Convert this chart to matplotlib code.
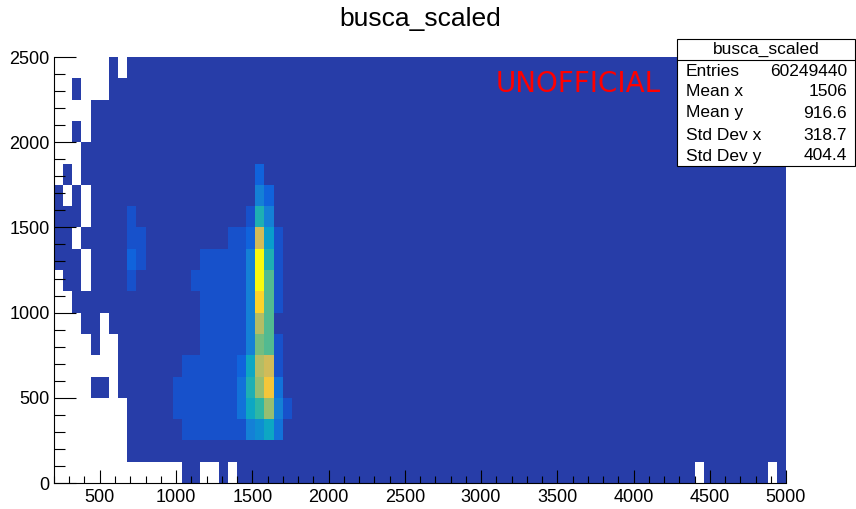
import numpy as np
import matplotlib
matplotlib.use("Agg")
import matplotlib.pyplot as plt
from matplotlib.colors import ListedColormap, BoundaryNorm
from matplotlib.patches import Rectangle
from matplotlib.ticker import MultipleLocator

plt.rcParams['font.family'] = ['Liberation Sans', 'DejaVu Sans']

# binning of busca_scaled: 80 x-bins, 20 y-bins
x_edges = np.linspace(200, 5000, 81)
y_edges = np.linspace(0, 2500, 21)

background = 30  # typical bin content away from the band (k entries)

# empty bins, keyed by y-bin: list of x-bins
empty_bins = {
    19: [0, 1, 2, 3, 4, 5, 7],
    18: [0, 1, 3, 4, 5],
    17: [0, 1, 2, 3],
    16: [0, 1, 3],
    15: [0, 1, 2],
    14: [0, 2],
    13: [1, 3],
    12: [3],
    11: [2],
    10: [3],
    9: [0, 3],
    8: [0, 1],
    7: [0, 1, 2, 5],
    6: [0, 1, 2, 3, 5, 6],
    5: [0, 1, 2, 3, 4, 5, 6],
    4: [0, 1, 2, 3, 6],
    3: list(range(8)),
    2: list(range(8)),
    1: list(range(8)),
    0: list(range(14)) + [16, 17, 19, 70, 78],
}

# main band: x-bins 13..25, y-bins 2..14 (bottom row first)
core_x0, core_y0 = 13, 2
core_counts = [
    [30, 140, 150, 160, 165, 170, 175, 180, 460, 560, 750, 360, 30],
    [130, 150, 160, 165, 170, 175, 185, 350, 760, 950, 1240, 450, 140],
    [125, 150, 160, 170, 175, 180, 190, 340, 850, 1250, 1650, 360, 30],
    [30, 140, 155, 165, 170, 180, 185, 260, 740, 1340, 1450, 160, 30],
    [30, 30, 30, 150, 160, 170, 175, 185, 460, 1150, 1050, 150, 30],
    [30, 30, 30, 145, 160, 165, 175, 180, 450, 1330, 1040, 60, 30],
    [30, 30, 30, 140, 155, 165, 170, 185, 470, 1760, 1060, 140, 30],
    [30, 30, 130, 150, 160, 170, 175, 190, 480, 1950, 1070, 150, 30],
    [30, 30, 30, 140, 150, 160, 170, 180, 440, 1985, 860, 140, 30],
    [30, 30, 30, 30, 30, 30, 140, 170, 250, 1440, 650, 130, 30],
    [30, 30, 30, 30, 30, 30, 30, 30, 150, 840, 430, 30, 30],
    [30, 30, 30, 30, 30, 30, 30, 30, 30, 450, 240, 30, 30],
    [30, 30, 30, 30, 30, 30, 30, 30, 30, 230, 30, 30, 30],
]

# small side cluster: x-bins 8..9, y-bins 9..12
side_x0, side_y0 = 8, 9
side_counts = [
    [150, 30],
    [260, 160],
    [140, 150],
    [130, 30],
]

stats = [("Entries", "60249440"), ("Mean x", "1506"), ("Mean y", "916.6"),
         ("Std Dev x", "318.7"), ("Std Dev y", "404.4")]

# fill histogram
z = np.full((len(y_edges) - 1, len(x_edges) - 1), float(background))
core = np.array(core_counts, dtype=float)
z[core_y0:core_y0 + core.shape[0], core_x0:core_x0 + core.shape[1]] = core
side = np.array(side_counts, dtype=float)
z[side_y0:side_y0 + side.shape[0], side_x0:side_x0 + side.shape[1]] = side
for iy, cols in empty_bins.items():
    z[iy, cols] = 0
z = np.ma.masked_equal(z, 0)

# kBird palette, 20 contour levels
stops = [0.0, 0.125, 0.25, 0.375, 0.5, 0.625, 0.75, 0.875, 1.0]
red = [0.2082, 0.0592, 0.0780, 0.0232, 0.1802, 0.5301, 0.8186, 0.9956, 0.9764]
green = [0.1664, 0.3599, 0.5041, 0.6419, 0.7178, 0.7492, 0.7328, 0.7862, 0.9832]
blue = [0.5293, 0.8684, 0.8385, 0.7914, 0.6425, 0.4662, 0.3499, 0.1968, 0.0539]
t = np.linspace(0, 1, 255)
pal = np.column_stack([np.interp(t, stops, red), np.interp(t, stops, green),
                       np.interp(t, stops, blue)])
ndiv = 20
lev_idx = [int((k + 0.99) * 255 / ndiv) for k in range(ndiv)]
cmap = ListedColormap(pal[lev_idx])
cmap.set_bad("white")
zmax = z.max()
bounds = np.linspace(0, zmax, ndiv + 1)
bounds[-1] *= 1.001
norm = BoundaryNorm(bounds, cmap.N)

fig = plt.figure(figsize=(8.56, 5.09), dpi=100)
ax = fig.add_axes([54 / 856, 26 / 509, 732 / 856, 426 / 509])
ax.pcolormesh(x_edges, y_edges, z, cmap=cmap, norm=norm, linewidth=0)
ax.set_xlim(200, 5000)
ax.set_ylim(0, 2500)

ax.xaxis.set_major_locator(MultipleLocator(500))
ax.xaxis.set_minor_locator(MultipleLocator(100))
ax.yaxis.set_major_locator(MultipleLocator(500))
ax.yaxis.set_minor_locator(MultipleLocator(100))
ax.tick_params(axis='x', which='major', direction='in', length=9.4, width=0.8,
               labelsize=13, pad=4)
ax.tick_params(axis='x', which='minor', direction='in', length=4.7, width=0.8)
ax.tick_params(axis='y', which='major', direction='in', length=15.8, width=0.8,
               labelsize=13, pad=3)
ax.tick_params(axis='y', which='minor', direction='in', length=7.9, width=0.8)
for s in ('top', 'right'):
    ax.spines[s].set_visible(False)
for s in ('left', 'bottom'):
    ax.spines[s].set_linewidth(0.8)

ax.text(0.716, 0.937, "UNOFFICIAL", transform=ax.transAxes,
        color="red", fontsize=20, family="DejaVu Sans", ha="center", va="center")

fig.text(420 / 856, 1 - 19 / 509, "busca_scaled", ha="center", va="center",
         fontsize=19)

# statistics box
bx0, bx1, by0, by1 = 677, 855, 39, 166
fig.add_artist(Rectangle((bx0 / 856, 1 - by1 / 509), (bx1 - bx0) / 856,
                         (by1 - by0) / 509, transform=fig.transFigure,
                         facecolor="white", edgecolor="black", linewidth=0.8))
fig.add_artist(plt.Line2D([bx0 / 856, bx1 / 856], [1 - 60 / 509, 1 - 60 / 509],
                          transform=fig.transFigure, color="black", linewidth=0.8))
fig.text((bx0 + bx1) / 2 / 856, 1 - 49 / 509, "busca_scaled", ha="center",
         va="center", fontsize=12.5)
row_y = [71, 92, 113, 135, 156]
for (name, val), yy in zip(stats, row_y):
    fig.text(686 / 856, 1 - yy / 509, name, ha="left", va="center", fontsize=12.5)
    fig.text(847 / 856, 1 - yy / 509, val, ha="right", va="center", fontsize=12.5)

fig.savefig("out.png", dpi=100)
